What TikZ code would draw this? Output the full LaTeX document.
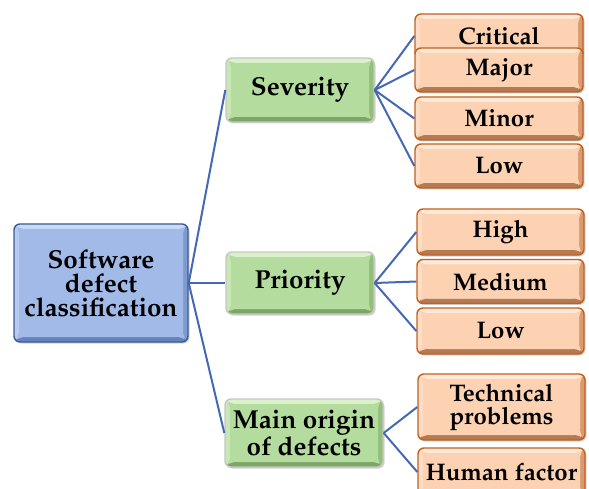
\documentclass[tikz,border=0pt]{standalone}
\usepackage[T1]{fontenc}
\usepackage{mathpazo}
\usetikzlibrary{shadows}

\definecolor{rootfill}{HTML}{A2BAE8}
\definecolor{roottop}{HTML}{CCDBF5}
\definecolor{rootleft}{HTML}{B6CAEF}
\definecolor{rootright}{HTML}{7F9ACE}
\definecolor{rootbot}{HTML}{6683BB}
\definecolor{rootline}{HTML}{3A5C9A}
\definecolor{grnfill}{HTML}{B4DC9E}
\definecolor{grntop}{HTML}{DBF1CC}
\definecolor{grnleft}{HTML}{C8E7B4}
\definecolor{grnright}{HTML}{93BF7B}
\definecolor{grnbot}{HTML}{7DA666}
\definecolor{grnline}{HTML}{C4C8C0}
\definecolor{orgfill}{HTML}{FCD2B2}
\definecolor{orgtop}{HTML}{FFE9D8}
\definecolor{orgleft}{HTML}{FDDDC6}
\definecolor{orgright}{HTML}{D89C72}
\definecolor{orgbot}{HTML}{B47A54}
\definecolor{orgline}{HTML}{C4601C}
\definecolor{linkblue}{HTML}{4468B4}

\tikzset{
  % flat face with four bevelled edges: face, top, left, right, bottom
  bevel/.style n args={5}{fill=#1, path picture={
      \path (path picture bounding box.north west) coordinate (bvA)
            (path picture bounding box.north east) coordinate (bvB)
            (path picture bounding box.south east) coordinate (bvC)
            (path picture bounding box.south west) coordinate (bvD);
      \path ([shift={(5pt,-5pt)}]bvA) coordinate (bva)
            ([shift={(-5pt,-5pt)}]bvB) coordinate (bvb)
            ([shift={(-5pt,5pt)}]bvC) coordinate (bvc)
            ([shift={(5pt,5pt)}]bvD) coordinate (bvd);
      \fill[#2] (bvA) -- (bvB) -- (bvb) -- (bva) -- cycle;
      \fill[#3] (bvA) -- (bva) -- (bvd) -- (bvD) -- cycle;
      \fill[#4] (bvB) -- (bvC) -- (bvc) -- (bvb) -- cycle;
      \fill[#5] (bvD) -- (bvd) -- (bvc) -- (bvC) -- cycle;
      \fill[#1] (bva) rectangle (bvc);}},
  box/.style={rounded corners=6pt, align=center, inner sep=0pt, line width=1.4pt,
      drop shadow={shadow xshift=1.5pt, shadow yshift=-1.5pt, opacity=0.35}},
  rootbox/.style={box, draw=rootline,
      bevel={rootfill}{roottop}{rootleft}{rootright}{rootbot},
      minimum width=174pt, minimum height=118pt,
      font=\fontsize{26}{24}\selectfont\bfseries},
  catbox/.style={box, draw=grnline,
      bevel={grnfill}{grntop}{grnleft}{grnright}{grnbot},
      minimum width=148pt, font=\fontsize{26}{23}\selectfont\bfseries},
  leafbox/.style={box, draw=orgline,
      bevel={orgfill}{orgtop}{orgleft}{orgright}{orgbot},
      minimum width=167pt, font=\fontsize{24}{23}\selectfont\bfseries},
  link/.style={draw=linkblue, line width=2pt}
}

\begin{document}
\begin{tikzpicture}[x=1pt,y=-1pt]
\useasboundingbox (0,0) rectangle (589,489);

% root
\node[rootbox] (root) at (101,283) {Software\\defect\\classification};

% categories
\node[catbox, minimum height=64pt] (sev) at (300,90) {Severity};
\node[catbox, minimum height=62pt] (pri) at (300,283) {Priority};
\node[catbox, minimum width=158pt, minimum height=68pt] (orig) at (304,433) {Main origin\\of defects};

% severity levels
\node[leafbox, minimum width=168pt, minimum height=44pt] (crit) at (499,36) {Critical};
\node[leafbox, minimum width=168pt, minimum height=44pt] (major) at (499,70) {Major};
\node[leafbox, minimum width=168pt, minimum height=43pt] (minor) at (499,118.5) {Minor};
\node[leafbox, minimum width=168pt, minimum height=44pt] (slow) at (499,166) {Low};

% priority levels
\node[leafbox, minimum height=46pt] (high) at (500.5,232) {High};
\node[leafbox, minimum height=44pt] (medium) at (500.5,281.5) {Medium};
\node[leafbox, minimum height=46pt] (plow) at (500.5,331) {Low};

% origins
\node[leafbox, minimum height=66pt] (tech) at (501.5,407) {Technical\\problems};
\node[leafbox, minimum height=48pt] (human) at (501.5,472) {Human factor};

% connectors
\foreach \c in {sev,pri,orig} \draw[link] (root.east) -- (\c.west);
\foreach \c in {crit,major,minor,slow} \draw[link] (sev.east) -- (\c.west);
\foreach \c in {high,medium,plow} \draw[link] (pri.east) -- (\c.west);
\foreach \c in {tech,human} \draw[link] (orig.east) -- (\c.west);
\end{tikzpicture}
\end{document}
